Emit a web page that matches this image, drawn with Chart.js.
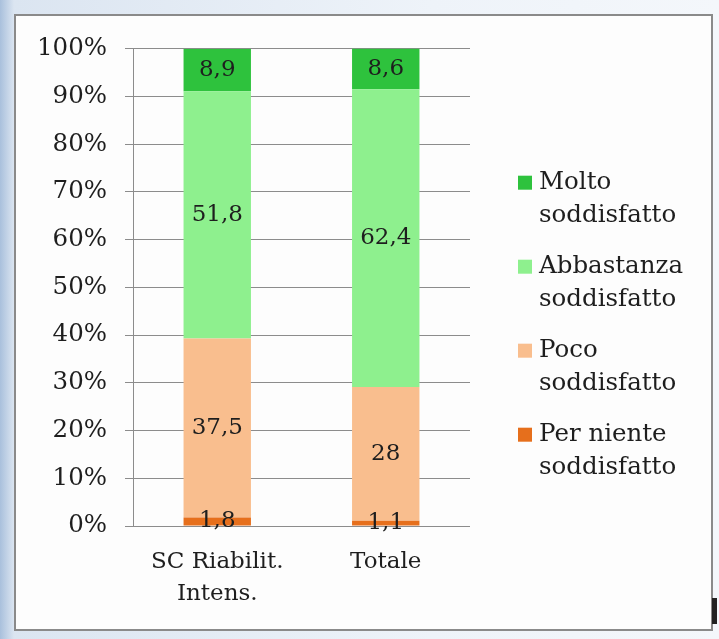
<!DOCTYPE html>
<html>
<head>
<meta charset="utf-8">
<script src="https://cdn.jsdelivr.net/npm/chart.js@4/dist/chart.umd.min.js"></script>
<style>
    html, body { margin: 0; padding: 0; }
    body {
        width: 719px; height: 639px; overflow: hidden; position: relative;
        background: linear-gradient(to right, #a9c0dc 0px, #dbe5f1 14px, #eef3f9 60%, #f4f7fb 100%);
    }
    #frame {
        position: absolute; left: 14px; top: 14px; width: 695px; height: 613px;
        border: 2px solid #8a8a8a; background: #fdfdfd;
    }
    #mark { position: absolute; left: 712px; top: 598px; width: 5px; height: 26px; background: #222; }
</style>
</head>
<body>
<div id="frame"><canvas id="satChart" width="695" height="613"></canvas></div>
<div id="mark"></div>
<script>
// Chart data
const categories = [['SC Riabilit.', 'Intens.'], 'Totale'];
const seriesNames = ['Per niente soddisfatto', 'Poco soddisfatto', 'Abbastanza soddisfatto', 'Molto soddisfatto'];
const perNiente = [1.8, 1.1];
const poco = [37.5, 28];
const abbastanza = [51.8, 62.4];
const molto = [8.9, 8.6];
const yTicks = [0, 10, 20, 30, 40, 50, 60, 70, 80, 90, 100];

const seriesColors = ['#e66f1c', '#f9be8e', '#8ef08e', '#2ec23d'];
const legendLines = [['Per niente', 'soddisfatto'], ['Poco', 'soddisfatto'], ['Abbastanza', 'soddisfatto'], ['Molto', 'soddisfatto']];
const FONT = '"DejaVu Serif", serif';
const TEXT = '#1e1e1e';

// Value labels in the middle of each segment
const segmentLabels = {
    id: 'segmentLabels',
    afterDatasetsDraw(chart) {
        const ctx = chart.ctx;
        ctx.save();
        ctx.font = '23px ' + FONT;
        ctx.fillStyle = TEXT;
        ctx.textAlign = 'center';
        ctx.textBaseline = 'middle';
        chart.data.datasets.forEach((ds, i) => {
            chart.getDatasetMeta(i).data.forEach((bar, j) => {
                const { x, y, base } = bar.getProps(['x', 'y', 'base'], true);
                ctx.fillText(String(ds.data[j]).replace('.', ','), x, (y + base) / 2);
            });
        });
        ctx.restore();
    }
};

// Two-line legend on the right
const sideLegend = {
    id: 'sideLegend',
    afterDraw(chart) {
        const ctx = chart.ctx;
        const area = chart.chartArea;
        ctx.save();
        ctx.font = '24.5px ' + FONT;
        ctx.textBaseline = 'middle';
        ctx.textAlign = 'left';
        const n = chart.data.datasets.length;
        for (let k = 0; k < n; k++) {
            const i = n - 1 - k;
            const ds = chart.data.datasets[i];
            const cy = area.top + 134 + k * 84;
            ctx.fillStyle = ds.backgroundColor;
            ctx.fillRect(area.right + 48, cy - 7, 14, 14);
            ctx.fillStyle = TEXT;
            legendLines[i].forEach((t, l) => ctx.fillText(t, area.right + 69, cy + l * 33));
        }
        ctx.restore();
    }
};

const makeSet = (label, data, color) => ({
    label: label,
    data: data,
    backgroundColor: color,
    borderWidth: 0,
    barPercentage: 0.5,
    categoryPercentage: 0.8
});

new Chart(document.getElementById('satChart').getContext('2d'), {
    type: 'bar',
    data: {
        labels: categories,
        datasets: [
            makeSet(seriesNames[0], perNiente, seriesColors[0]),
            makeSet(seriesNames[1], poco, seriesColors[1]),
            makeSet(seriesNames[2], abbastanza, seriesColors[2]),
            makeSet(seriesNames[3], molto, seriesColors[3])
        ]
    },
    options: {
        responsive: false,
        animation: false,
        layout: { padding: { top: 31, right: 241, left: 0, bottom: 0 } },
        plugins: { legend: { display: false }, tooltip: { enabled: false } },
        scales: {
            x: {
                stacked: true,
                grid: { display: false, drawTicks: false },
                border: { display: false },
                ticks: { color: TEXT, padding: 21, font: { family: FONT, size: 23, lineHeight: 1.35 } },
                afterFit: (s) => { s.height = 103; }
            },
            y: {
                stacked: true,
                min: 0,
                max: 100,
                afterBuildTicks: (s) => { s.ticks = yTicks.map(v => ({ value: v })); },
                grid: { color: '#8c8c8c', lineWidth: 1, tickLength: 8 },
                border: { color: '#8c8c8c' },
                ticks: { color: TEXT, padding: 18, font: { family: FONT, size: 24.5 }, callback: (v) => v + '%' },
                afterFit: (s) => { s.width = 117; }
            }
        }
    },
    plugins: [segmentLabels, sideLegend]
});
</script>
</body>
</html>
